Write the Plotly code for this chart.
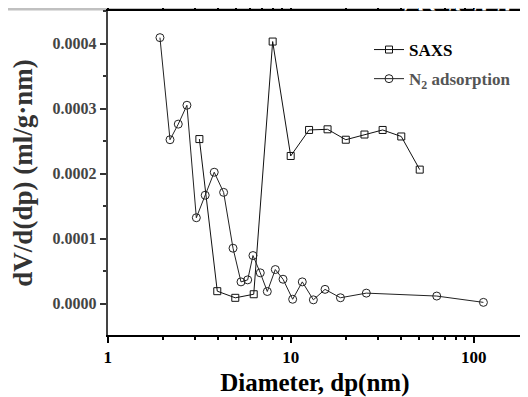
import plotly.graph_objects as go

# ---- data ----
saxs_d = [3.17, 3.97, 4.98, 6.28, 7.97, 10.0, 12.6, 15.9, 20.0, 25.3, 31.8, 40.2, 50.7]
saxs_v = [0.000253, 0.000019, 0.0000088, 0.0000143, 0.000403, 0.000227, 0.000267,
          0.000268, 0.000252, 0.000260, 0.000267, 0.000257, 0.000206]

n2_d = [1.93, 2.19, 2.43, 2.71, 3.05, 3.41, 3.82, 4.30, 4.84, 5.35, 5.82, 6.22,
        6.82, 7.45, 8.24, 9.08, 10.25, 11.57, 13.3, 15.4, 18.7, 25.9, 62.8, 113.0]
n2_v = [0.000409, 0.000252, 0.000276, 0.000305, 0.000132, 0.0001666, 0.000202,
        0.000171, 0.0000851, 0.0000333, 0.0000364, 0.0000738, 0.0000472, 0.0000185,
        0.0000523, 0.0000374, 0.0000066, 0.0000333, 0.0000057, 0.0000218, 0.0000089,
        0.000016, 0.0000115, 0.0000018]

x_tickvals = [1, 10, 100]
x_ticktext = ["1", "10", "100"]
y_tickvals = [0.0, 0.0001, 0.0002, 0.0003, 0.0004]
y_ticktext = ["0.0000", "0.0001", "0.0002", "0.0003", "0.0004"]
x_minor = [k * 10 ** e for e in range(0, 3) for k in range(2, 10)]

watermark_text = ["ACCEPTED MANUSCRIPT"]

# The page body adds an 8px offset, so the figure is sized/positioned to compensate.
OFF = 8
W, H = 528 - OFF, 397 - OFF
FONT = "Liberation Serif"

left_px, right_px, top_px, bottom_px = 107.7 - OFF, 522 - OFF, 11 - OFF, 335 - OFF
plot_h = bottom_px  # margin t=0
band_h = 10.5 - OFF

fig = go.Figure()

fig.add_trace(go.Scatter(
    x=saxs_d, y=saxs_v, mode="lines+markers", name="SAXS",
    legendgroup="a",
    line=dict(color="#111111", width=1),
    marker=dict(symbol="square-open", size=7, color="#111111", line=dict(width=1)),
))
fig.add_trace(go.Scatter(
    x=n2_d, y=n2_v, mode="lines+markers",
    name="<span style='color:#555555'>N<sub>2</sub> adsorption</span>",
    legendgroup="b",
    line=dict(color="#222222", width=1),
    marker=dict(symbol="circle-open", size=8, color="#222222", line=dict(width=1)),
))

# watermark text in a clipped strip at the very top
fig.add_trace(go.Scatter(
    x=[398 - OFF], y=[band_h + 2.5], mode="text", text=watermark_text,
    textposition="middle right", xaxis="x2", yaxis="y2", showlegend=False,
    cliponaxis=True, hoverinfo="skip",
    textfont=dict(family=FONT, size=38, color="white"),
))

fig.update_layout(
    width=W, height=H,
    margin=dict(l=0, r=0, t=0, b=H - bottom_px, autoexpand=False),
    paper_bgcolor="white",
    plot_bgcolor="rgba(0,0,0,0)",
    font=dict(family=FONT, color="black"),
    showlegend=True,
    legend=dict(
        x=(409 - OFF - 40) / W, y=1 - (32 - OFF) / plot_h, xanchor="left", yanchor="top",
        bgcolor="rgba(0,0,0,0)", borderwidth=0,
        font=dict(family=FONT, size=17, color="black", weight="bold"),
        traceorder="grouped", tracegroupgap=4,
    ),
    xaxis=dict(
        type="log", domain=[left_px / W, right_px / W], automargin=False,
        range=[0, (right_px - left_px) / 183.0],
        tickvals=x_tickvals, ticktext=x_ticktext,
        ticks="outside", ticklen=6, tickwidth=2, tickcolor="black",
        showline=True, linecolor="black", linewidth=2, mirror="allticks",
        showgrid=False, zeroline=False,
        tickfont=dict(family=FONT, size=17, color="black", weight="bold"),
        minor=dict(tickvals=x_minor, ticks="outside", ticklen=3, tickwidth=1.5,
                   tickcolor="black", showgrid=False),
        title=dict(text="Diameter, dp(nm)",
                   font=dict(family=FONT, size=25, color="black", weight="bold")),
    ),
    yaxis=dict(
        domain=[0, 1 - top_px / plot_h], automargin=False,
        range=[-0.0000484, 0.00045],
        tickvals=y_tickvals, ticktext=y_ticktext,
        ticks="outside", ticklen=6, tickwidth=2, tickcolor="#333333",
        showline=True, linecolor="#444444", linewidth=2, mirror="allticks",
        showgrid=False, zeroline=False,
        tickfont=dict(family=FONT, size=16, color="#444444", weight="bold"),
        minor=dict(dtick=0.00005, ticks="outside", ticklen=3, tickwidth=1.5,
                   tickcolor="#333333", showgrid=False),
        title=dict(text="dV/d(dp) (ml/g·nm)",
                   font=dict(family=FONT, size=27, color="#333333", weight="bold")),
    ),
    xaxis2=dict(domain=[0, 1], range=[-OFF, W], visible=False, anchor="y2"),
    yaxis2=dict(domain=[1 - band_h / plot_h, 1], range=[0, band_h], visible=False, anchor="x2"),
    shapes=[dict(type="rect", xref="x2 domain", yref="y2 domain", x0=0, x1=1, y0=0, y1=1,
                 fillcolor="#c0c0c0", line=dict(width=0), layer="below")],
)

fig.write_html("out.html")
